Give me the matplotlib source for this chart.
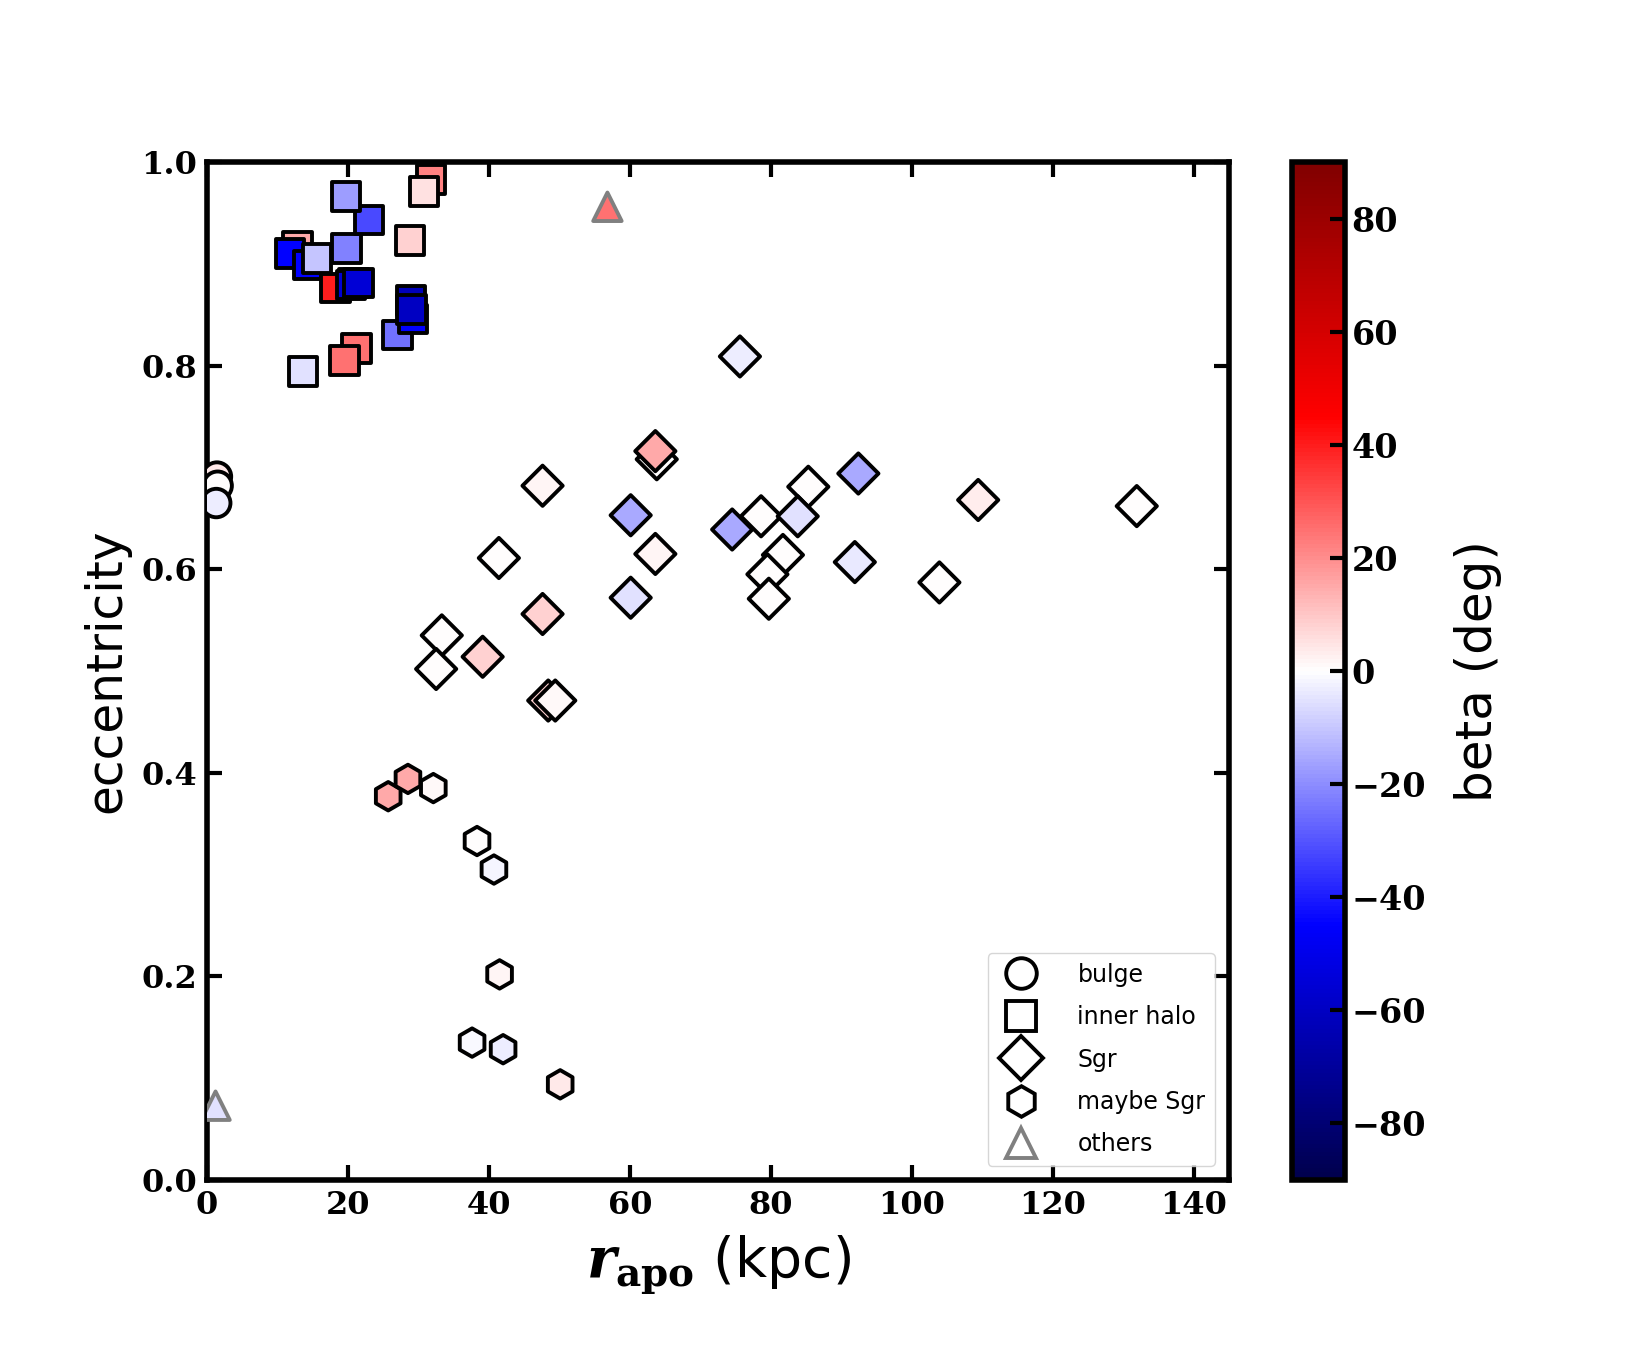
import numpy as np
import matplotlib
matplotlib.use("Agg")
import matplotlib.pyplot as plt
from matplotlib.lines import Line2D

plt.rcParams["mathtext.fontset"] = "custom"
plt.rcParams["mathtext.it"] = "DejaVu Serif:italic:bold"
plt.rcParams["mathtext.rm"] = "DejaVu Serif:bold"
plt.rcParams["mathtext.bf"] = "DejaVu Serif:bold"

# bulge (circles)
bulge_r = [1.4, 1.5, 1.3]
bulge_e = [0.691, 0.682, 0.665]
bulge_b = [4, 0, -3]

# inner halo (squares)
halo_r = [12.8, 11.8, 14.3, 15.6, 19.8, 23.0, 28.8, 19.7, 31.8, 30.8,
          18.2, 20.8, 20.4, 21.5, 27.0, 29.2, 28.9, 29.0, 21.2, 19.5, 13.6]
halo_e = [0.917, 0.910, 0.899, 0.905, 0.915, 0.943, 0.923, 0.966, 0.983, 0.971,
          0.876, 0.881, 0.879, 0.881, 0.830, 0.846, 0.864, 0.855, 0.817, 0.805, 0.794]
halo_b = [15, -45, -45, -10, -22, -32, 8, -17, 22, 5,
          40, 25, -55, -55, -25, -45, -62, -60, 25, 25, -5]

# Sgr (diamonds)
sgr_r = [75.6, 63.8, 63.6, 47.6, 60.1, 63.6, 41.4, 60.1, 47.6, 33.3, 32.5, 39.1,
         48.4, 49.4, 74.5, 78.6, 85.3, 83.8, 92.4, 81.7, 79.5, 79.7, 91.9, 103.9,
         109.4, 131.9]
sgr_e = [0.809, 0.708, 0.716, 0.682, 0.653, 0.615, 0.611, 0.572, 0.556, 0.535, 0.502, 0.514,
         0.471, 0.471, 0.639, 0.652, 0.681, 0.652, 0.694, 0.614, 0.595, 0.571, 0.607, 0.587,
         0.668, 0.662]
sgr_b = [-3, 0, 15, 2, -15, 2, 0, -5, 8, 0, 0, 8,
         8, 1, -15, 0, 0, -5, -15, 0, 0, 0, -4, 0,
         3, 0]

# maybe Sgr (hexagons)
msgr_r = [25.7, 28.5, 32.1, 38.3, 40.7, 41.5, 37.6, 42.0, 50.1]
msgr_e = [0.377, 0.394, 0.385, 0.333, 0.305, 0.202, 0.135, 0.1285, 0.094]
msgr_b = [15, 15, 1, 0, -2, 2, -1, -3, 4]

# others (triangles)
oth_r = [56.8, 1.2]
oth_e = [0.956, 0.073]
oth_b = [25, -5]

cmap = plt.get_cmap("seismic")
norm = plt.Normalize(-90, 90)

fig = plt.figure(figsize=(16.5, 13.5), dpi=100)
ax = fig.add_axes([0.1255, 0.1259, 0.6194, 0.7541])
cax = fig.add_axes([0.783, 0.1259, 0.032, 0.7541])

ms = 420
lw = 2.8
ax.scatter(bulge_r, bulge_e, c=bulge_b, cmap=cmap, norm=norm, marker="o", s=ms,
           edgecolors="k", linewidths=lw, zorder=3)
ax.scatter(halo_r, halo_e, c=halo_b, cmap=cmap, norm=norm, marker="s", s=ms,
           edgecolors="k", linewidths=lw, zorder=3)
ax.scatter(sgr_r, sgr_e, c=sgr_b, cmap=cmap, norm=norm, marker="D", s=ms,
           edgecolors="k", linewidths=lw, zorder=3)
ax.scatter(msgr_r, msgr_e, c=msgr_b, cmap=cmap, norm=norm, marker="h", s=ms,
           edgecolors="k", linewidths=lw, zorder=3)
sc = ax.scatter(oth_r, oth_e, c=oth_b, cmap=cmap, norm=norm, marker="^", s=ms,
                edgecolors="0.5", linewidths=lw, zorder=3)

ax.set_xlim(0, 145)
ax.set_ylim(0, 1)
ax.set_xticks(np.arange(0, 141, 20))
ax.set_yticks(np.arange(0, 1.01, 0.2))
ax.set_yticklabels(["%.1f" % v for v in np.arange(0, 1.01, 0.2)])
ax.tick_params(direction="in", top=True, right=True, length=11, width=3, pad=7)
for lab in ax.get_xticklabels() + ax.get_yticklabels():
    lab.set_family("DejaVu Serif")
    lab.set_weight("bold")
    lab.set_fontsize(23)
for sp in ax.spines.values():
    sp.set_linewidth(4)

ax.set_xlabel(r"$r_{\rm apo}$ (kpc)", fontsize=40, labelpad=9)
ax.set_ylabel("eccentricity", fontsize=35, labelpad=8)

handles = [
    Line2D([], [], ls="none", marker="o", ms=22, mfc="none", mec="k", mew=lw),
    Line2D([], [], ls="none", marker="s", ms=22, mfc="none", mec="k", mew=lw),
    Line2D([], [], ls="none", marker="D", ms=22, mfc="none", mec="k", mew=lw),
    Line2D([], [], ls="none", marker="h", ms=22, mfc="none", mec="k", mew=lw),
    Line2D([], [], ls="none", marker="^", ms=22, mfc="none", mec="0.5", mew=lw),
]
ax.legend(handles, ["bulge", "inner halo", "Sgr", "maybe Sgr", "others"],
          loc="lower right", fontsize=17, handletextpad=1.4, borderaxespad=0.6,
          labelspacing=0.78)

cb = fig.colorbar(sc, cax=cax)
cb.set_ticks(np.arange(-80, 81, 20))
cb.ax.tick_params(direction="in", length=11, width=3, pad=5)
for lab in cb.ax.get_yticklabels():
    lab.set_family("DejaVu Serif")
    lab.set_weight("bold")
    lab.set_fontsize(24)
cb.outline.set_linewidth(4)
cb.set_label("beta (deg)", fontsize=36, labelpad=20)

fig.savefig("out.png", dpi=100)
